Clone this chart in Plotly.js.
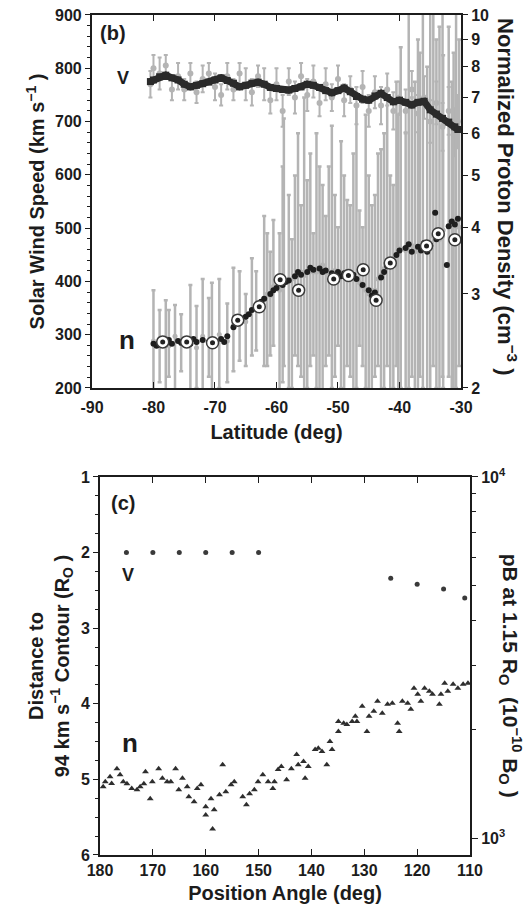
<!DOCTYPE html>
<html><head><meta charset="utf-8">
<script src="https://cdn.plot.ly/plotly-3.0.1.min.js"></script>
<style>html,body{margin:0;padding:0;background:#fff}#chart{width:528px;height:912px}</style>
</head><body><div id="chart"></div>
<script>
// ---------- Panel (b): solar wind vs latitude ----------
const latTicks = [-90, -80, -70, -60, -50, -40, -30];
const latTickText = ['-90', '-80', '-70', '-60', '-50', '-40', '-30'];
const densTicks = [2, 3, 4, 5, 6, 7, 8, 9, 10];

// smoothed speed (black band)
const vLat = [-80.5,-80,-79,-78,-77,-76,-75,-74,-73,-72,-71,-70,-69,-68,-67,-66,-65,-64,-63,-62,-61,-60,-59,-58,-57,-56,-55,-54,-53,-52,-51,-50,-49,-48,-47,-46,-45,-44,-43,-42,-41,-40,-39,-38,-37,-36,-35,-34,-33,-32,-31,-30.5];
const vSmooth = [775,778,784,787,782,778,770,765,768,771,774,778,782,777,772,765,768,772,774,770,764,762,760,759,762,765,770,768,764,758,754,758,763,756,747,742,740,748,753,745,737,740,736,731,736,738,722,714,706,699,690,685];

// raw speed (gray) with error
const vRawLat = [-80.5,-80,-79,-78,-77,-76,-75,-74,-73,-72,-71,-70,-69,-68,-67,-66,-65,-64,-63,-62,-61,-60,-59,-58,-57,-56,-55,-54,-53,-52,-51,-50,-49,-48,-47,-46,-45,-44,-43,-42,-41,-40,-39,-38,-37,-36,-35,-34,-33,-32,-31,-30.5];
const vRaw = [770,800,790,805,760,785,760,790,755,780,790,765,750,785,760,790,770,755,785,770,740,770,720,775,745,785,750,775,735,770,745,780,740,760,730,765,720,755,730,760,720,745,720,760,715,745,700,735,690,720,680,700];
const vRawErr = [25,25,30,20,20,25,20,20,20,25,20,25,20,25,20,20,30,25,20,30,25,30,30,25,30,25,30,30,25,30,25,25,30,25,35,30,30,30,35,30,35,30,40,35,35,40,40,40,45,45,45,50];

// raw normalized density (gray) with upper / lower bounds
const nRawLat = [-80,-79,-78,-77.5,-76.5,-75.5,-74,-73,-72,-71,-70.5,-69.3,-68,-67,-66,-65,-64,-63.3,-62,-61,-60.5,-59.5,-58.8,-58,-57,-56,-55.5,-54.5,-53.5,-52.5,-51.5,-50.5,-49.5,-48.5,-47.5,-46.5,-45.5,-44.5,-43.5,-42.5,-41.5,-40.5,-39.8,-39,-38,-37,-36.2,-35.5,-34.5,-33.5,-32.9,-32,-31.5,-30.8,-30.3,
  -61.5,-59,-57.5,-56.5,-55,-54,-53,-52,-51,-50,-49,-48,-47,-46,-45,-44,-43,-42,-41,-40.2,-38.5,-37.5,-36.7,-35,-34,-33,-31.2];
const nRaw = [2.45,2.40,2.48,2.40,2.50,2.42,2.46,2.38,2.50,2.44,2.40,2.52,2.45,2.62,2.70,2.66,2.80,2.85,2.95,2.98,3.10,3.05,3.15,3.20,3.22,3.30,3.25,3.35,3.30,3.40,3.28,3.32,3.25,3.30,3.22,3.15,3.05,3.00,3.20,3.35,3.45,3.55,3.65,3.62,3.70,3.60,3.72,3.65,3.85,3.80,3.95,4.00,4.05,4.10,4.00,
  3.00,3.10,3.20,3.28,3.30,3.30,3.35,3.30,3.30,3.30,3.28,3.25,3.20,3.10,3.00,3.05,3.25,3.38,3.50,3.60,3.70,3.65,3.70,3.70,3.90,3.85,4.10];
const nRawUp = [3.05,2.80,2.92,2.80,2.86,2.75,3.12,2.85,3.20,2.95,3.15,3.20,2.88,3.36,3.31,3.00,3.50,3.31,4.20,3.60,4.13,3.90,6.40,4.60,5.00,4.40,7.00,5.50,6.00,4.80,5.20,4.60,5.80,4.50,5.50,4.30,6.50,4.40,5.50,6.00,5.00,7.50,8.70,6.00,7.00,9.00,10.5,8.00,10.5,9.50,8.40,9.50,7.50,10.5,9.00,
  3.90,5.20,3.80,6.00,4.90,3.90,5.20,4.20,6.20,4.00,5.00,4.40,6.80,4.00,5.00,4.60,5.60,7.00,4.80,6.50,10.5,7.50,8.50,10.5,9.00,10.5,8.50];
const nRawLo = [1.9,2.05,1.9,2.1,1.9,2.15,1.9,2.0,1.9,2.1,1.9,2.0,2.05,2.15,2.25,2.2,2.3,2.35,2.2,2.3,2.4,1.9,2.2,2.0,2.3,2.1,1.9,2.2,2.0,1.9,2.3,2.1,2.0,2.2,1.9,2.4,2.0,1.9,2.2,2.0,1.9,2.2,2.0,1.9,2.1,1.9,2.0,1.9,2.2,1.9,2.0,2.1,1.9,2.0,2.2,
  2.2,2.05,2.0,2.2,2.0,2.3,1.9,2.2,2.0,2.4,1.9,2.1,2.0,2.2,1.9,2.1,1.9,2.2,2.0,1.9,2.0,1.9,2.1,1.9,2.0,2.1,1.9];

// smoothed density (black dots)
const nLat = [-80,-79.5,-79,-78,-77.5,-77,-76,-75.5,-75,-74,-73.5,-73,-72,-71,-70.5,-70,-69,-68.5,-68,-67,-66.5,-66,-65,-64.5,-64,-63,-62.5,-62,-61,-60.5,-60,-59,-58.5,-58,-57,-56.5,-56,-55,-54.5,-54,-53,-52.5,-52,-51,-50,-49.5,-49,-48,-47.5,-47,-46,-45,-44.5,-44,-43,-42.5,-42,-41,-40.5,-40,-39,-38.5,-38,-37,-36.5,-36,-35.5,-35,-34.2,-34,-33.5,-32.3,-32,-31.5,-31,-30.5];
const nSmooth = [2.42,2.40,2.44,2.43,2.46,2.42,2.45,2.43,2.44,2.42,2.47,2.44,2.46,2.44,2.42,2.45,2.47,2.44,2.50,2.60,2.66,2.70,2.72,2.75,2.80,2.86,2.90,2.94,3.00,3.05,3.08,3.12,3.16,3.18,3.24,3.30,3.26,3.30,3.36,3.33,3.35,3.30,3.32,3.28,3.30,3.24,3.28,3.22,3.26,3.20,3.12,3.05,2.98,3.02,3.22,3.30,3.38,3.45,3.55,3.62,3.66,3.72,3.60,3.68,3.62,3.74,3.60,3.70,4.26,3.80,3.86,3.40,4.02,4.10,4.05,4.15];

// highlighted (ringed) density points
const circLat = [-78.5,-74.6,-70.4,-66.3,-62.8,-59.4,-56.4,-50.7,-48.3,-45.9,-43.8,-41.5,-35.6,-33.7,-31.0];
const circN = [2.44,2.44,2.43,2.68,2.84,3.19,3.05,3.20,3.25,3.33,2.92,3.43,3.69,3.89,3.79];

// ---------- Panel (c): coronal data vs position angle ----------
const paTicks = [180, 170, 160, 150, 140, 130, 120, 110];
const distTicks = [1, 2, 3, 4, 5, 6];
const vPA = [175, 170, 165, 160, 155, 150, 125, 120, 115, 111];
const vDist = [2.0, 2.0, 2.0, 2.0, 2.0, 2.0, 2.34, 2.42, 2.48, 2.6];

const nPA = [179.4,179.0,178.1,177.8,176.8,176.2,175.6,174.9,174.0,173.0,172.4,171.7,171.4,170.5,170.1,168.9,168.2,167.3,166.6,165.7,165.1,164.4,163.5,163.2,162.2,161.6,160.9,160.0,160.0,159.0,158.7,158.4,157.4,156.8,156.2,155.2,154.6,153.0,152.3,151.7,150.8,150.1,149.2,148.2,147.3,147.0,146.3,145.7,144.7,143.8,142.8,142.5,141.5,141.2,140.6,139.3,138.7,138.0,137.1,136.5,136.1,134.9,134.9,133.9,133.3,132.3,131.7,131.4,130.4,129.5,129.1,128.2,127.5,126.6,125.6,124.7,123.7,123.4,122.8,121.8,121.2,120.6,119.9,119.3,118.6,117.7,117.1,115.8,115.5,114.8,114.2,113.2,112.3,111.3,110.4];
const nPB = [1387,1432,1479,1416,1556,1497,1432,1414,1372,1360,1387,1414,1527,1284,1432,1556,1463,1432,1432,1556,1360,1463,1387,1301,1260,1372,1405,1220,1159,1284,1060,1197,1318,1597,1343,1405,1432,1301,1236,1326,1360,1432,1497,1432,1372,1432,1547,1577,1451,1556,1703,1597,1628,1463,1577,1758,1773,1736,1597,1851,1758,1974,2104,2078,2064,2104,2173,2104,2317,1974,2173,2244,2392,2215,2347,2362,2078,1974,2392,2362,2273,2600,2502,2392,2600,2551,2502,2347,2502,2685,2551,2668,2600,2668,2685];
const pbTicks = [1000, 10000];
const pbTickText = ['10<sup>3</sup>', '10<sup>4</sup>'];
const pbMinor = [2000, 3000, 4000, 5000, 6000, 7000, 8000, 9000];

// ---------- styling ----------
const FAM = '"Liberation Sans", Arial, Helvetica, sans-serif';
const INK = '#1c1c1c';
const GRAY = '#b4b4b4';
const tickFont = {family: FAM, size: 16, color: INK, weight: 'bold'};
const titleFont = {family: FAM, size: 20, color: INK, weight: 'bold'};

const traces = [
  {x: vRawLat, y: vRaw, xaxis: 'x', yaxis: 'y', type: 'scatter', mode: 'markers',
   marker: {color: GRAY, size: 6},
   error_y: {type: 'data', array: vRawErr, color: GRAY, thickness: 2, width: 2},
   showlegend: false, hoverinfo: 'skip'},
  {x: nRawLat, y: nRaw, xaxis: 'x', yaxis: 'y2', type: 'scatter', mode: 'markers',
   marker: {color: GRAY, size: 5},
   error_y: {type: 'data', symmetric: false,
     array: nRawUp.map((u, i) => u - nRaw[i]),
     arrayminus: nRawLo.map((l, i) => nRaw[i] - l),
     color: GRAY, thickness: 2.5, width: 2},
   showlegend: false},
  {x: nLat, y: nSmooth, xaxis: 'x', yaxis: 'y2', type: 'scatter', mode: 'markers',
   marker: {color: '#1e1e1e', size: 6}, showlegend: false},
  {x: circLat, y: circN, xaxis: 'x', yaxis: 'y2', type: 'scatter', mode: 'markers',
   marker: {color: '#ffffff', size: 12, line: {color: '#3a3a3a', width: 1.5}}, showlegend: false},
  {x: circLat, y: circN, xaxis: 'x', yaxis: 'y2', type: 'scatter', mode: 'markers',
   marker: {color: '#222222', size: 5}, showlegend: false},
  {x: vLat, y: vSmooth, xaxis: 'x', yaxis: 'y3', type: 'scatter', mode: 'lines+markers',
   line: {color: '#2a2a2a', width: 7}, marker: {color: '#2a2a2a', size: 7, symbol: 'square'},
   showlegend: false},
  {x: vPA, y: vDist, xaxis: 'x2', yaxis: 'y4', type: 'scatter', mode: 'markers',
   marker: {color: '#3a3a3a', size: 5}, showlegend: false},
  {x: nPA, y: nPB, xaxis: 'x2', yaxis: 'y5', type: 'scatter', mode: 'markers',
   marker: {color: '#2e2e2e', size: 6, symbol: 'triangle-up'}, showlegend: false}
];

const axLine = {showline: true, linecolor: INK, linewidth: 2, showgrid: false, zeroline: false,
  tickcolor: INK, tickfont: tickFont};

function label(text, x, y, size) {
  return {text: text, x: x, y: y, xref: 'paper', yref: 'paper', showarrow: false,
    xanchor: 'center', yanchor: 'middle',
    font: {family: FAM, size: size, color: INK, weight: 'bold'}};
}

const layout = {
  width: 528, height: 912,
  margin: {l: 0, r: 0, t: 0, b: 0},
  paper_bgcolor: '#ffffff', plot_bgcolor: 'rgba(0,0,0,0)',
  font: {family: FAM, color: INK},
  showlegend: false,
  xaxis: Object.assign({}, axLine, {domain: [0.1742, 0.8731], anchor: 'y', range: [-90, -30],
    tickvals: latTicks, ticktext: latTickText, ticks: 'inside', ticklen: 6, mirror: 'ticks',
    ticklabelstandoff: 4,
    title: {text: 'Latitude (deg)', font: titleFont, standoff: 10}}),
  yaxis: Object.assign({}, axLine, {domain: [0.5746, 0.9836], anchor: 'x', range: [200, 900],
    dtick: 100, ticks: 'outside', ticklen: 5,
    minor: {dtick: 20, ticks: 'outside', ticklen: 3, tickcolor: INK},
    title: {text: 'Solar Wind Speed (km s<sup>−1</sup> )', font: titleFont, standoff: 5}}),
  yaxis2: Object.assign({}, axLine, {overlaying: 'y', side: 'right', anchor: 'x', type: 'log',
    range: [Math.log10(2), 1], tickvals: densTicks, ticks: 'outside', ticklen: 5}),
  yaxis3: {overlaying: 'y', anchor: 'x', range: [200, 900], visible: false},
  xaxis2: Object.assign({}, axLine, {domain: [0.1894, 0.8902], anchor: 'y4', range: [180, 110],
    tickvals: paTicks, ticks: 'inside', ticklen: 6, mirror: 'ticks',
    title: {text: 'Position Angle (deg)', font: titleFont, standoff: 8}}),
  yaxis4: Object.assign({}, axLine, {domain: [0.0625, 0.4770], anchor: 'x2', range: [6, 1],
    tickvals: distTicks, ticks: 'outside', ticklen: 5,
    minor: {dtick: 0.25, ticks: 'outside', ticklen: 3, tickcolor: INK},
    title: {text: 'Distance to<br>94 km s<sup>−1</sup> Contour (R<sub>O</sub> )', font: titleFont, standoff: 6}}),
  yaxis5: Object.assign({}, axLine, {overlaying: 'y4', side: 'right', anchor: 'x2', type: 'log',
    range: [2.953, 4], tickvals: pbTicks, ticktext: pbTickText, ticks: 'outside', ticklen: 6,
    minor: {tickvals: pbMinor, ticks: 'outside', ticklen: 4, tickcolor: INK}}),
  annotations: [
    label('(b)', 0.214, 0.9638, 20),
    label('V', 0.233, 0.9145, 18),
    label('n', 0.2405, 0.6272, 26),
    label('(c)', 0.233, 0.4485, 20),
    label('V', 0.2424, 0.3695, 18),
    label('n', 0.2462, 0.1853, 26),
    Object.assign(label('Normalized Proton Density (cm<sup>−3</sup> )', 0.960, 0.784, 22), {textangle: 90}),
    Object.assign(label('pB at 1.15 R<sub>O</sub>  (10<sup>−10</sup> B<sub>O</sub> )', 0.966, 0.259, 21), {textangle: 90})
  ]
};

Plotly.newPlot('chart', traces, layout, {displayModeBar: false, staticPlot: true});
</script></body></html>
